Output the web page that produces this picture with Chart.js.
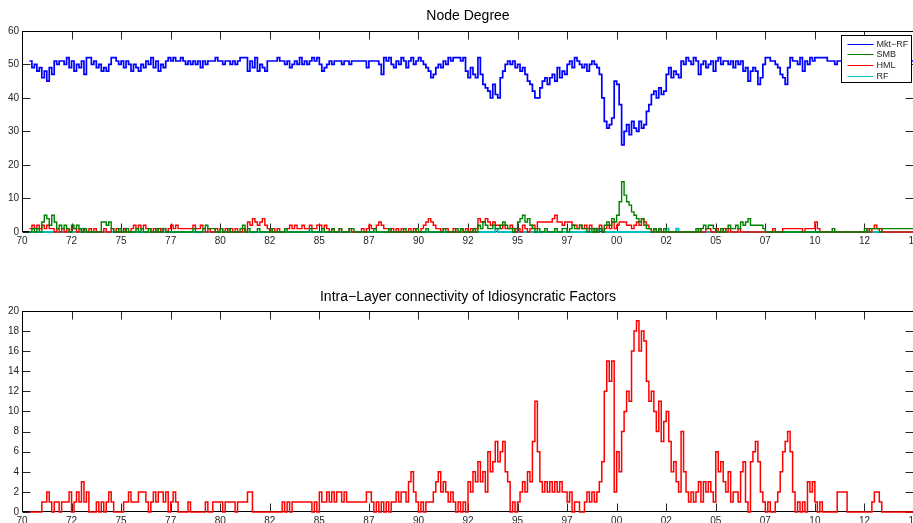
<!DOCTYPE html>
<html>
<head>
<meta charset="utf-8">
<script src="https://cdn.jsdelivr.net/npm/chart.js@4/dist/chart.umd.min.js"></script>
<style>
  html, body { margin: 0; padding: 0; background: #fff; overflow: hidden; width: 913px; height: 523px; }
  canvas { position: absolute; left: 0; }
  #degree { top: 0; }
  #idio { top: 266px; }
</style>
</head>
<body>
<canvas id="degree" width="940" height="250"></canvas>
<canvas id="idio" width="940" height="257"></canvas>
<script>
// Sampling grid: one value every 1/8 year, starting mid-1970 and ending at 2015.
const START_YEAR = 1970.375;
const STEP = 0.125;

// Axis ticks (every 2.5 years, labelled with the two-digit year).
const tickYears = [1970, 1972.5, 1975, 1977.5, 1980, 1982.5, 1985, 1987.5, 1990, 1992.5,
                   1995, 1997.5, 2000, 2002.5, 2005, 2007.5, 2010, 2012.5, 2015];
const tickLabels = ['70', '72', '75', '77', '80', '82', '85', '87', '90', '92',
                    '95', '97', '00', '02', '05', '07', '10', '12', '15'];

// Node degree of each factor.
const mktRF = [
  51,49,50,48,49,
  46,48,45,49,47,51,50,51,
  51,50,52,49,51,48,50,49,
  51,47,52,52,50,51,49,50,
  48,49,48,50,52,52,51,50,
  51,49,51,50,48,50,49,48,
  50,49,51,50,52,49,51,48,
  50,49,51,52,51,52,51,51,
  52,51,50,51,50,51,50,51,
  49,51,50,51,51,51,52,51,
  51,50,51,51,50,51,50,51,
  52,52,52,48,51,49,52,48,
  50,49,48,51,51,51,51,52,
  51,51,50,51,49,50,51,50,
  52,50,51,50,51,52,51,52,
  50,48,49,50,51,50,51,51,
  51,50,51,51,50,51,51,51,
  51,51,51,49,51,51,51,51,
  50,47,52,51,52,50,49,51,
  50,52,51,49,51,52,50,51,
  52,51,50,49,48,46,47,49,
  50,49,51,50,52,51,52,52,
  52,51,52,48,46,49,47,46,
  52,47,44,43,42,40,44,41,
  40,46,48,50,51,50,51,49,
  50,48,49,47,45,44,42,40,
  40,43,45,46,44,46,47,45,
  49,46,48,47,50,51,49,52,
  51,50,49,50,48,50,51,50,
  49,47,40,33,31,32,34,45,
  44,38,26,30,32,29,33,31,
  30,33,31,32,36,38,41,42,
  40,43,41,42,47,49,46,48,
  47,46,51,50,52,51,50,52,
  51,47,50,51,49,50,51,48,
  51,52,50,51,51,50,51,49,
  51,50,51,48,49,45,48,49,
  48,44,46,50,52,52,51,51,
  50,49,47,46,44,49,52,51,
  51,50,52,48,51,50,52,51,
  52,52,52,52,52,51,51,51,
  50,51,51,51,51,51,51,51,
  51,51,51,51,51,51,51,51,
  51,51,51,51,51,51,51,51,
  51,51,51,51,51,51,51,51,
  51
];

const smb = [
  0,1,0,1,0,
  3,5,4,2,5,3,1,2,
  1,2,1,0,2,1,2,1,
  0,1,0,0,0,0,0,0,
  3,3,2,3,1,0,0,1,
  0,0,1,0,0,0,1,0,
  1,0,0,1,0,0,1,0,
  0,1,0,0,0,0,0,0,
  0,0,0,0,0,1,0,0,
  0,1,2,1,1,1,0,0,
  1,0,0,1,0,0,0,0,
  1,2,0,1,0,0,0,1,
  0,0,0,0,1,0,0,0,
  0,0,1,0,0,0,0,0,
  0,0,0,0,1,0,0,0,
  0,1,0,0,0,1,0,0,
  1,0,0,0,1,1,0,0,
  0,0,0,0,0,0,1,0,
  0,0,0,0,1,0,0,0,
  0,0,1,0,0,0,0,1,
  0,0,0,1,0,0,0,0,
  0,0,1,0,0,0,0,1,
  0,1,0,0,0,0,1,0,
  2,1,3,2,1,1,2,1,
  1,2,3,2,1,1,0,1,
  3,4,5,3,4,2,1,0,
  1,0,0,1,0,0,0,1,
  0,0,1,1,0,1,2,1,
  1,2,1,1,0,1,0,1,
  0,1,0,2,3,2,4,3,
  5,9,15,11,9,8,6,5,
  4,3,4,2,1,1,0,1,
  0,1,0,1,0,0,0,0,
  0,0,0,0,0,0,0,0,
  1,0,1,2,1,2,2,1,
  0,0,1,0,1,2,1,1,
  2,1,3,2,3,4,2,2,
  2,2,2,1,0,0,0,0,
  0,0,0,0,0,0,0,0,
  0,0,0,0,0,0,0,0,
  0,0,0,0,0,0,0,1,
  0,0,0,0,0,0,0,0,
  0,0,0,0,1,0,1,1,
  1,1,0,1,1,1,1,1,
  1,1,1,1,1,1,1,1,
  1
];

const hml = [
  1,2,1,2,1,
  2,1,2,1,1,0,1,0,
  1,0,1,0,1,1,0,1,
  0,1,0,1,0,1,0,0,
  0,1,0,0,1,0,1,0,
  0,1,0,0,1,2,1,2,
  1,2,1,1,0,1,0,1,
  0,1,0,1,2,1,2,1,
  1,1,1,1,1,2,1,1,
  2,1,0,1,0,0,1,0,
  1,0,1,0,1,0,1,0,
  0,1,0,3,2,4,3,2,
  3,4,2,1,0,1,0,1,
  0,0,1,1,2,1,2,1,
  1,2,1,1,2,1,1,2,
  2,1,2,1,0,1,0,0,
  1,0,0,0,1,0,0,0,
  0,1,0,1,2,1,1,2,
  3,2,1,1,0,1,0,1,
  0,1,0,0,1,0,1,0,
  0,1,2,3,4,3,2,1,
  1,0,1,1,0,0,1,0,
  0,1,0,1,0,1,0,1,
  4,3,3,4,3,2,3,2,
  2,1,2,1,1,2,1,0,
  1,0,2,1,0,1,2,1,
  3,3,3,3,3,3,4,5,
  3,3,2,3,3,3,2,2,
  1,2,1,2,1,2,1,0,
  1,2,0,1,2,1,3,1,
  2,3,3,3,2,2,1,2,
  3,2,4,3,2,1,0,1,
  0,1,0,0,0,0,0,0,
  0,0,0,0,0,0,0,0,
  0,1,0,0,1,1,0,0,
  1,0,0,1,0,1,0,0,
  0,1,0,0,0,0,0,0,
  0,0,0,0,0,0,0,1,
  0,0,0,1,1,1,1,1,
  1,1,1,0,1,1,1,1,
  3,1,0,0,0,0,0,0,
  0,0,0,0,0,0,0,0,
  0,0,0,0,0,1,0,1,
  2,1,1,0,0,0,0,0,
  0,0,0,0,0,0,0,0,
  0
];

const rf = [
  0,0,0,0,0,
  0,0,0,0,0,0,0,0,
  0,0,0,0,0,0,0,0,
  1,0,0,0,0,0,0,0,
  0,0,0,0,0,0,0,0,
  0,1,0,0,0,0,0,0,
  0,0,0,0,0,0,0,0,
  1,0,0,0,0,0,0,0,
  0,0,0,0,0,0,0,0,
  0,0,0,0,0,0,0,0,
  0,0,0,0,0,0,0,0,
  0,0,0,0,0,0,0,0,
  0,0,0,0,0,0,0,0,
  0,0,0,0,0,0,0,0,
  0,0,0,0,0,0,0,0,
  0,0,0,0,0,0,0,0,
  0,0,0,0,0,0,0,0,
  0,0,0,0,0,0,0,0,
  0,0,0,0,0,0,0,0,
  0,0,0,0,0,0,0,0,
  0,0,0,0,0,0,0,0,
  0,0,0,0,0,0,0,0,
  0,0,0,0,0,0,0,0,
  0,0,0,0,0,0,0,1,
  0,0,0,0,0,0,0,0,
  0,0,0,0,0,0,0,0,
  0,0,0,0,0,0,0,0,
  0,0,0,0,0,0,0,0,
  0,0,0,0,0,0,0,1,
  0,1,0,0,0,0,0,0,
  0,0,0,0,0,0,0,0,
  0,0,0,0,0,0,0,0,
  0,0,0,0,1,0,0,0,
  1,0,0,0,0,0,0,0,
  0,0,0,0,0,0,0,0,
  0,0,0,0,0,0,0,0,
  0,0,0,0,0,0,0,0,
  0,0,0,0,0,0,0,0,
  0,0,0,0,0,0,0,0,
  0,0,0,0,0,0,0,0,
  0,0,0,0,0,0,0,0,
  0,0,0,0,0,0,0,0,
  0,0,0,0,0,0,0,0,
  0,0,0,0,0,0,0,0,
  0,0,0,0,0,0,0,0,
  0
];

// Intra-layer connectivity of the idiosyncratic factors.
const idioConn = [
  0,0,0,0,0,
  1,1,2,1,0,1,1,0,
  1,1,1,2,0,1,2,1,
  3,1,2,0,0,0,1,0,
  1,0,1,2,1,0,0,0,
  0,1,1,2,1,1,1,2,
  2,2,1,0,1,2,1,2,
  2,1,2,0,1,2,1,0,
  0,0,0,1,0,0,0,0,
  0,0,1,0,0,1,1,1,
  1,0,1,1,1,1,0,1,
  1,1,1,2,2,0,0,0,
  0,0,0,0,0,0,0,0,
  0,1,0,1,0,1,1,1,
  1,1,1,1,1,0,1,0,
  2,1,1,2,1,2,1,2,
  2,1,2,1,1,1,1,1,
  1,1,1,2,2,1,0,1,
  0,1,0,1,0,1,1,2,
  1,2,2,1,3,4,2,1,
  0,1,0,1,1,1,2,3,
  4,2,3,2,1,2,1,0,
  1,0,1,0,3,2,4,3,
  5,3,4,2,6,4,5,7,
  5,6,7,4,3,0,1,0,
  1,2,3,2,4,3,7,11,
  6,3,2,3,2,3,2,3,
  2,3,2,2,1,2,0,1,
  1,0,0,1,2,1,2,1,
  2,3,5,12,15,13,15,2,
  6,4,8,10,12,11,16,18,
  19,16,18,17,13,11,12,10,
  8,11,7,9,10,7,4,5,
  3,2,8,4,2,1,2,1,
  2,3,1,3,2,3,2,1,
  6,4,5,3,2,4,1,2,
  2,1,4,5,1,0,5,6,
  7,5,2,1,0,1,0,0,
  1,2,4,6,7,8,6,2,
  0,1,0,1,0,3,2,3,
  1,0,1,0,0,0,0,0,
  0,2,2,2,2,0,0,0,
  0,0,0,0,0,0,0,1,
  2,2,1,0,0,0,0,0,
  0,0,0,0,0,0,0,0,
  0
];

const FONT = '"Liberation Sans", Arial, Helvetica, sans-serif';
const TEXT = '#262626';

const toPoints = arr => arr.map((v, i) => ({ x: START_YEAR + i * STEP, y: v }));

// Box frame with inward ticks on all four sides.
const framePlugin = {
  id: 'frame',
  beforeDatasetsDraw(chart) {
    const { ctx, chartArea: a, scales: { x, y } } = chart;
    const L = Math.round(a.left) + 0.5, R = Math.round(a.right) - 0.5;
    const T = Math.round(a.top) + 0.5, B = Math.round(a.bottom) - 0.5;
    const len = 8;
    ctx.save();
    ctx.lineWidth = 1;
    ctx.strokeStyle = TEXT;
    ctx.beginPath();
    x.ticks.forEach(t => {
      const px = Math.round(x.getPixelForValue(t.value)) + 0.5;
      ctx.moveTo(px, B); ctx.lineTo(px, B - len);
      ctx.moveTo(px, T); ctx.lineTo(px, T + len);
    });
    y.ticks.forEach(t => {
      const py = Math.round(y.getPixelForValue(t.value)) + 0.5;
      ctx.moveTo(L, py); ctx.lineTo(L + len, py);
      ctx.moveTo(R, py); ctx.lineTo(R - len, py);
    });
    ctx.stroke();
    ctx.strokeStyle = '#000';
    ctx.strokeRect(L, T, R - L, B - T);
    ctx.restore();
  }
};

// Boxed legend in the upper-right corner of the plot area.
const boxLegendPlugin = {
  id: 'boxLegend',
  afterDraw(chart, args, opts) {
    if (!opts || !opts.show) return;
    const { ctx, chartArea: a } = chart;
    const sets = chart.data.datasets;
    const w = 70, h = 47, rowH = 10.7;
    const x0 = Math.round(a.right) - 73 + 0.5, y0 = Math.round(a.top) + 4 + 0.5;
    ctx.save();
    ctx.fillStyle = '#fff';
    ctx.fillRect(x0, y0, w, h);
    ctx.strokeStyle = '#000';
    ctx.lineWidth = 1;
    ctx.strokeRect(x0, y0, w, h);
    ctx.font = '9px ' + FONT;
    ctx.textBaseline = 'middle';
    ctx.textAlign = 'left';
    sets.forEach((ds, i) => {
      const cy = Math.round(y0 + 8 + i * rowH) + 0.5;
      ctx.strokeStyle = ds.borderColor;
      ctx.lineWidth = 1;
      ctx.beginPath();
      ctx.moveTo(x0 + 6, cy);
      ctx.lineTo(x0 + 32, cy);
      ctx.stroke();
      ctx.fillStyle = TEXT;
      ctx.fillText(ds.label, x0 + 35, cy);
    });
    ctx.restore();
  }
};

function makeOptions(title, yMax, yStep, axisHeight, titlePad, legend) {
  return {
    responsive: false,
    animation: false,
    devicePixelRatio: 1,
    layout: { padding: { top: 0, left: 0, right: 26, bottom: 0 } },
    elements: { point: { radius: 0 }, line: { tension: 0 } },
    plugins: {
      legend: { display: false },
      tooltip: { enabled: false },
      title: {
        display: true, text: title, fullSize: false, color: '#000',
        font: { family: FONT, size: 14, weight: 'normal' }, padding: titlePad
      },
      boxLegend: { show: legend }
    },
    scales: {
      x: {
        type: 'linear', min: 1970, max: 2015,
        grid: { display: false, drawTicks: false },
        border: { display: false },
        afterBuildTicks: s => { s.ticks = tickYears.map(v => ({ value: v })); },
        afterFit: s => { s.height = axisHeight; },
        ticks: {
          autoSkip: false, maxRotation: 0, minRotation: 0, padding: 3,
          color: TEXT, font: { family: FONT, size: 10 },
          callback: (v, i) => tickLabels[i]
        }
      },
      y: {
        min: 0, max: yMax,
        grid: { display: false, drawTicks: false },
        border: { display: false },
        afterFit: s => { s.width = 22; },
        ticks: { stepSize: yStep, padding: 3, color: TEXT, font: { family: FONT, size: 10 } }
      }
    }
  };
}

const lineSet = (label, data, color, width) => ({
  label, data: toPoints(data), borderColor: color, backgroundColor: color,
  borderWidth: width, stepped: true, clip: false, fill: false
});

new Chart(document.getElementById('degree'), {
  type: 'line',
  data: {
    datasets: [
      lineSet('Mkt\u2212RF', mktRF, '#0000ff', 1.7),
      lineSet('SMB', smb, '#008000', 1.4),
      lineSet('HML', hml, '#ff0000', 1.4),
      lineSet('RF', rf, '#00bfbf', 1.8)
    ]
  },
  options: makeOptions('Node Degree', 60, 10, 18, { top: 8, bottom: 6 }, true),
  plugins: [framePlugin, boxLegendPlugin]
});

new Chart(document.getElementById('idio'), {
  type: 'line',
  data: {
    datasets: [
      lineSet('Idiosyncratic', idioConn, '#ff0000', 1.5)
    ]
  },
  options: makeOptions('Intra\u2212Layer connectivity of Idiosyncratic Factors', 20, 2, 11, { top: 23, bottom: 5 }, false),
  plugins: [framePlugin, boxLegendPlugin]
});
</script>
</body>
</html>
